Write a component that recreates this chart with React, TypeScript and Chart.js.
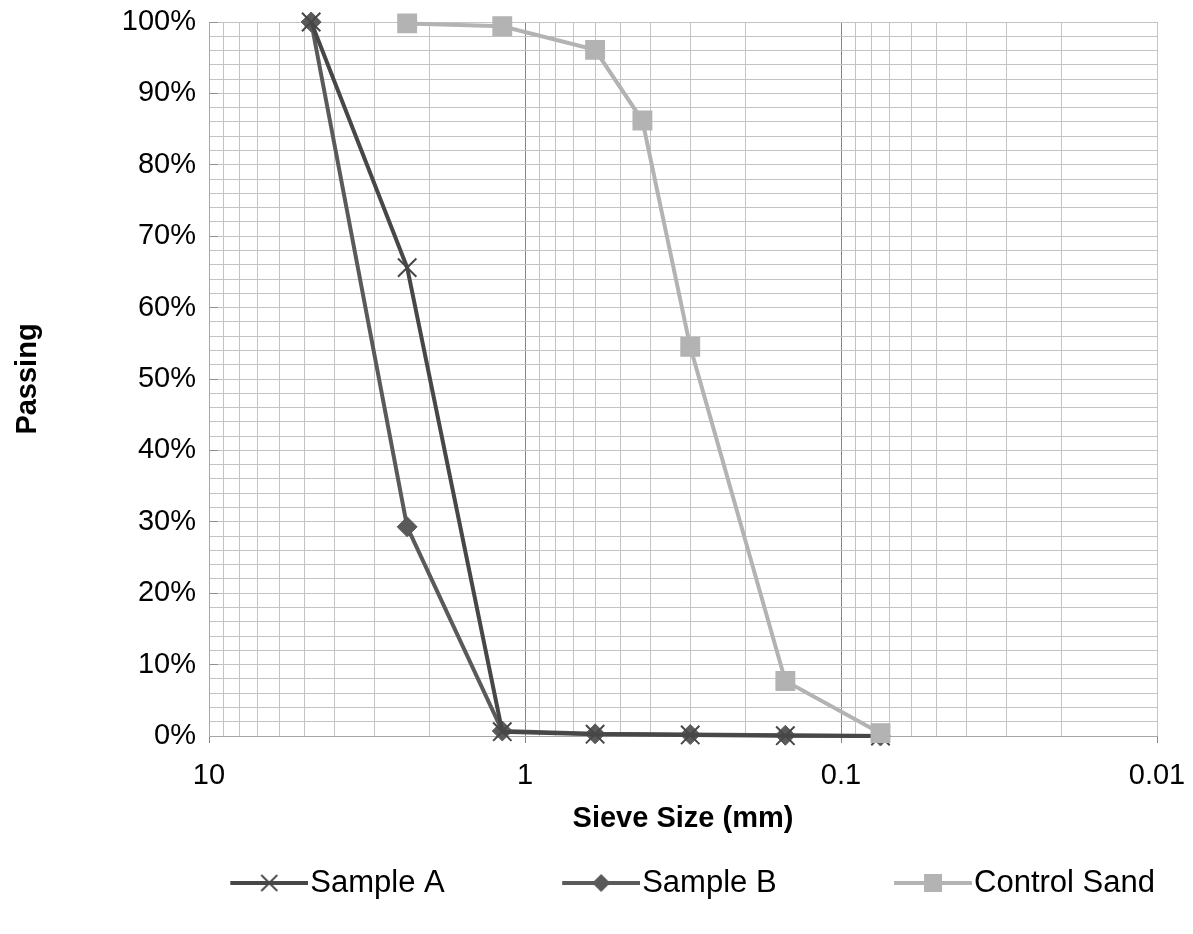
import React, { useEffect, useRef } from 'react';
import { Chart, registerables } from 'chart.js';

Chart.register(...registerables);

// ---- data ----
const sieveSizes = [4.75, 2.36, 1.18, 0.6, 0.3, 0.15, 0.075];
const sampleA = [100, 65.6, 0.6, 0.25, 0.15, 0.05, 0];
const sampleB = [100, 29.3, 0.7, 0.3, 0.2, 0.1, 0];
const controlSizes = [2.36, 1.18, 0.6, 0.425, 0.3, 0.15, 0.075];
const controlSand = [99.8, 99.4, 96.1, 86.2, 54.5, 7.7, 0.4];

// ---- axis ticks ----
const xMajorTicks = [10, 1, 0.1, 0.01];
const xMinorMultipliers = [2, 3, 4, 5, 6, 7, 8, 9];
const yMax = 100;
const yGridStep = 2;
const yLabelStep = 10;

const seriesLabels = ['Sample A', 'Sample B', 'Control Sand'];
const seriesColors = ['#474747', '#5a5a5a', '#b3b3b3'];

const FONT = "'Liberation Sans', Arial, sans-serif";

const isMajor = (v: number) => Math.abs(Math.log10(v) - Math.round(Math.log10(v))) < 1e-9;

export default function App() {
  const ref = useRef<HTMLCanvasElement>(null);

  useEffect(() => {
    document.body.style.margin = '0';
    const canvas = ref.current;
    if (!canvas) return;

    const legendFs = 31;
    const legendBox = 180;

    const makeIcon = (color: string, style: string) => {
      const c = document.createElement('canvas');
      const W = legendBox + legendFs - 4;
      const H = 26;
      c.width = W;
      c.height = H;
      const g = c.getContext('2d')!;
      const x0 = W - 78;
      const cx = W - 39;
      const cy = H / 2;
      g.strokeStyle = color;
      g.fillStyle = color;
      g.lineWidth = 4;
      g.beginPath();
      g.moveTo(x0, cy);
      g.lineTo(W, cy);
      g.stroke();
      if (style === 'cross') {
        g.lineWidth = 1.8;
        g.beginPath();
        g.moveTo(cx - 8, cy - 8);
        g.lineTo(cx + 8, cy + 8);
        g.moveTo(cx - 8, cy + 8);
        g.lineTo(cx + 8, cy - 8);
        g.stroke();
      } else if (style === 'diamond') {
        g.beginPath();
        g.moveTo(cx, cy - 9);
        g.lineTo(cx + 9, cy);
        g.lineTo(cx, cy + 9);
        g.lineTo(cx - 9, cy);
        g.closePath();
        g.fill();
      } else {
        g.fillRect(cx - 9, cy - 9, 18, 18);
      }
      return c;
    };
    const icons = [
      makeIcon(seriesColors[0], 'cross'),
      makeIcon(seriesColors[1], 'diamond'),
      makeIcon(seriesColors[2], 'square'),
    ];

    const xGridValues: number[] = [...xMajorTicks];
    xMajorTicks.slice(1).forEach((d) => xMinorMultipliers.forEach((m) => xGridValues.push(m * d)));
    xGridValues.sort((a, b) => a - b);

    const yGridValues: number[] = [];
    for (let v = 0; v <= yMax; v += yGridStep) yGridValues.push(v);

    const chart = new Chart(canvas, {
      type: 'line',
      data: {
        datasets: [
          {
            label: seriesLabels[0],
            data: sieveSizes.map((x, i) => ({ x, y: sampleA[i] })),
            borderColor: seriesColors[0],
            backgroundColor: seriesColors[0],
            borderWidth: 4,
            pointStyle: 'crossRot',
            pointRadius: 13,
            pointBorderWidth: 2,
            pointBorderColor: seriesColors[0],
            pointBackgroundColor: seriesColors[0],
            order: 1,
            clip: false,
          },
          {
            label: seriesLabels[1],
            data: sieveSizes.map((x, i) => ({ x, y: sampleB[i] })),
            borderColor: seriesColors[1],
            backgroundColor: seriesColors[1],
            borderWidth: 4,
            pointStyle: 'rectRot',
            pointRadius: 10,
            pointBorderWidth: 1,
            pointBorderColor: seriesColors[1],
            pointBackgroundColor: seriesColors[1],
            order: 2,
            clip: false,
          },
          {
            label: seriesLabels[2],
            data: controlSizes.map((x, i) => ({ x, y: controlSand[i] })),
            borderColor: seriesColors[2],
            backgroundColor: seriesColors[2],
            borderWidth: 4,
            pointStyle: 'rect',
            pointRadius: 13,
            pointBorderWidth: 1.5,
            pointBorderColor: seriesColors[2],
            pointBackgroundColor: seriesColors[2],
            order: 0,
            clip: false,
          },
        ] as any,
      },
      options: {
        animation: false,
        responsive: false,
        devicePixelRatio: 1,
        layout: { autoPadding: false, padding: { left: 0, right: 36, top: 22, bottom: 25.5 } },
        plugins: {
          tooltip: { enabled: false },
          legend: {
            position: 'bottom',
            align: 'end',
            labels: {
              usePointStyle: true,
              pointStyleWidth: legendBox,
              padding: 2,
              color: '#000',
              font: { family: FONT, size: legendFs },
              generateLabels: (ch: any) =>
                ch.data.datasets.map((ds: any, i: number) => ({
                  text: ds.label,
                  pointStyle: icons[i],
                  fillStyle: seriesColors[i],
                  strokeStyle: seriesColors[i],
                  lineWidth: 0,
                  hidden: false,
                  datasetIndex: i,
                  fontColor: '#000',
                })),
            },
          },
        },
        scales: {
          x: {
            type: 'logarithmic',
            reverse: true,
            min: 0.01,
            max: 10,
            afterBuildTicks: (s: any) => {
              s.ticks = xGridValues.map((v) => ({ value: v, major: false }));
            },
            afterFit: (s: any) => {
              s.height = 129.5;
              s.paddingLeft = 0;
              s.paddingRight = 0;
            },
            ticks: {
              autoSkip: false,
              maxRotation: 0,
              minRotation: 0,
              padding: 16,
              color: '#000',
              font: { family: FONT, size: 29 },
              callback: (v: any) => (isMajor(Number(v)) ? String(Number(v)) : ''),
            },
            grid: {
              lineWidth: 1,
              tickLength: 7,
              color: (c: any) => {
                const v = c.tick ? c.tick.value : 0;
                return isMajor(v) && v !== 10 && v !== 0.01 ? '#878787' : '#c3c3c3';
              },
              tickColor: (c: any) => (c.tick && isMajor(c.tick.value) ? '#878787' : 'rgba(0,0,0,0)'),
            },
            border: { color: '#a6a6a6', width: 1 },
            title: {
              display: true,
              text: 'Sieve Size (mm)',
              color: '#000',
              font: { family: FONT, size: 29, weight: 'bold' },
              padding: { top: 0, bottom: 29 },
            },
          },
          y: {
            type: 'linear',
            min: 0,
            max: yMax,
            afterBuildTicks: (s: any) => {
              s.ticks = yGridValues.map((v) => ({ value: v }));
            },
            afterFit: (s: any) => {
              s.width = 209;
              s.paddingTop = 0;
              s.paddingBottom = 0;
            },
            ticks: {
              autoSkip: false,
              padding: 22,
              color: '#000',
              font: { family: FONT, size: 29 },
              callback: (v: any) => (Number(v) % yLabelStep === 0 ? `${v}%` : ''),
            },
            grid: {
              lineWidth: 1,
              tickLength: -9,
              color: '#c3c3c3',
              tickColor: (c: any) => (c.tick && c.tick.value % yLabelStep === 0 ? '#8f8f8f' : 'rgba(0,0,0,0)'),
            },
            border: { color: '#a6a6a6', width: 1 },
            title: {
              display: true,
              text: 'Passing',
              color: '#000',
              font: { family: FONT, size: 29, weight: 'bold' },
              padding: { top: 10.6, bottom: 0 },
            },
          },
        },
      } as any,
    });

    return () => chart.destroy();
  }, []);

  return (
    <div style={{ width: 1193, height: 934, background: '#fff' }}>
      <canvas ref={ref} width={1193} height={934} style={{ display: 'block' }} />
    </div>
  );
}
